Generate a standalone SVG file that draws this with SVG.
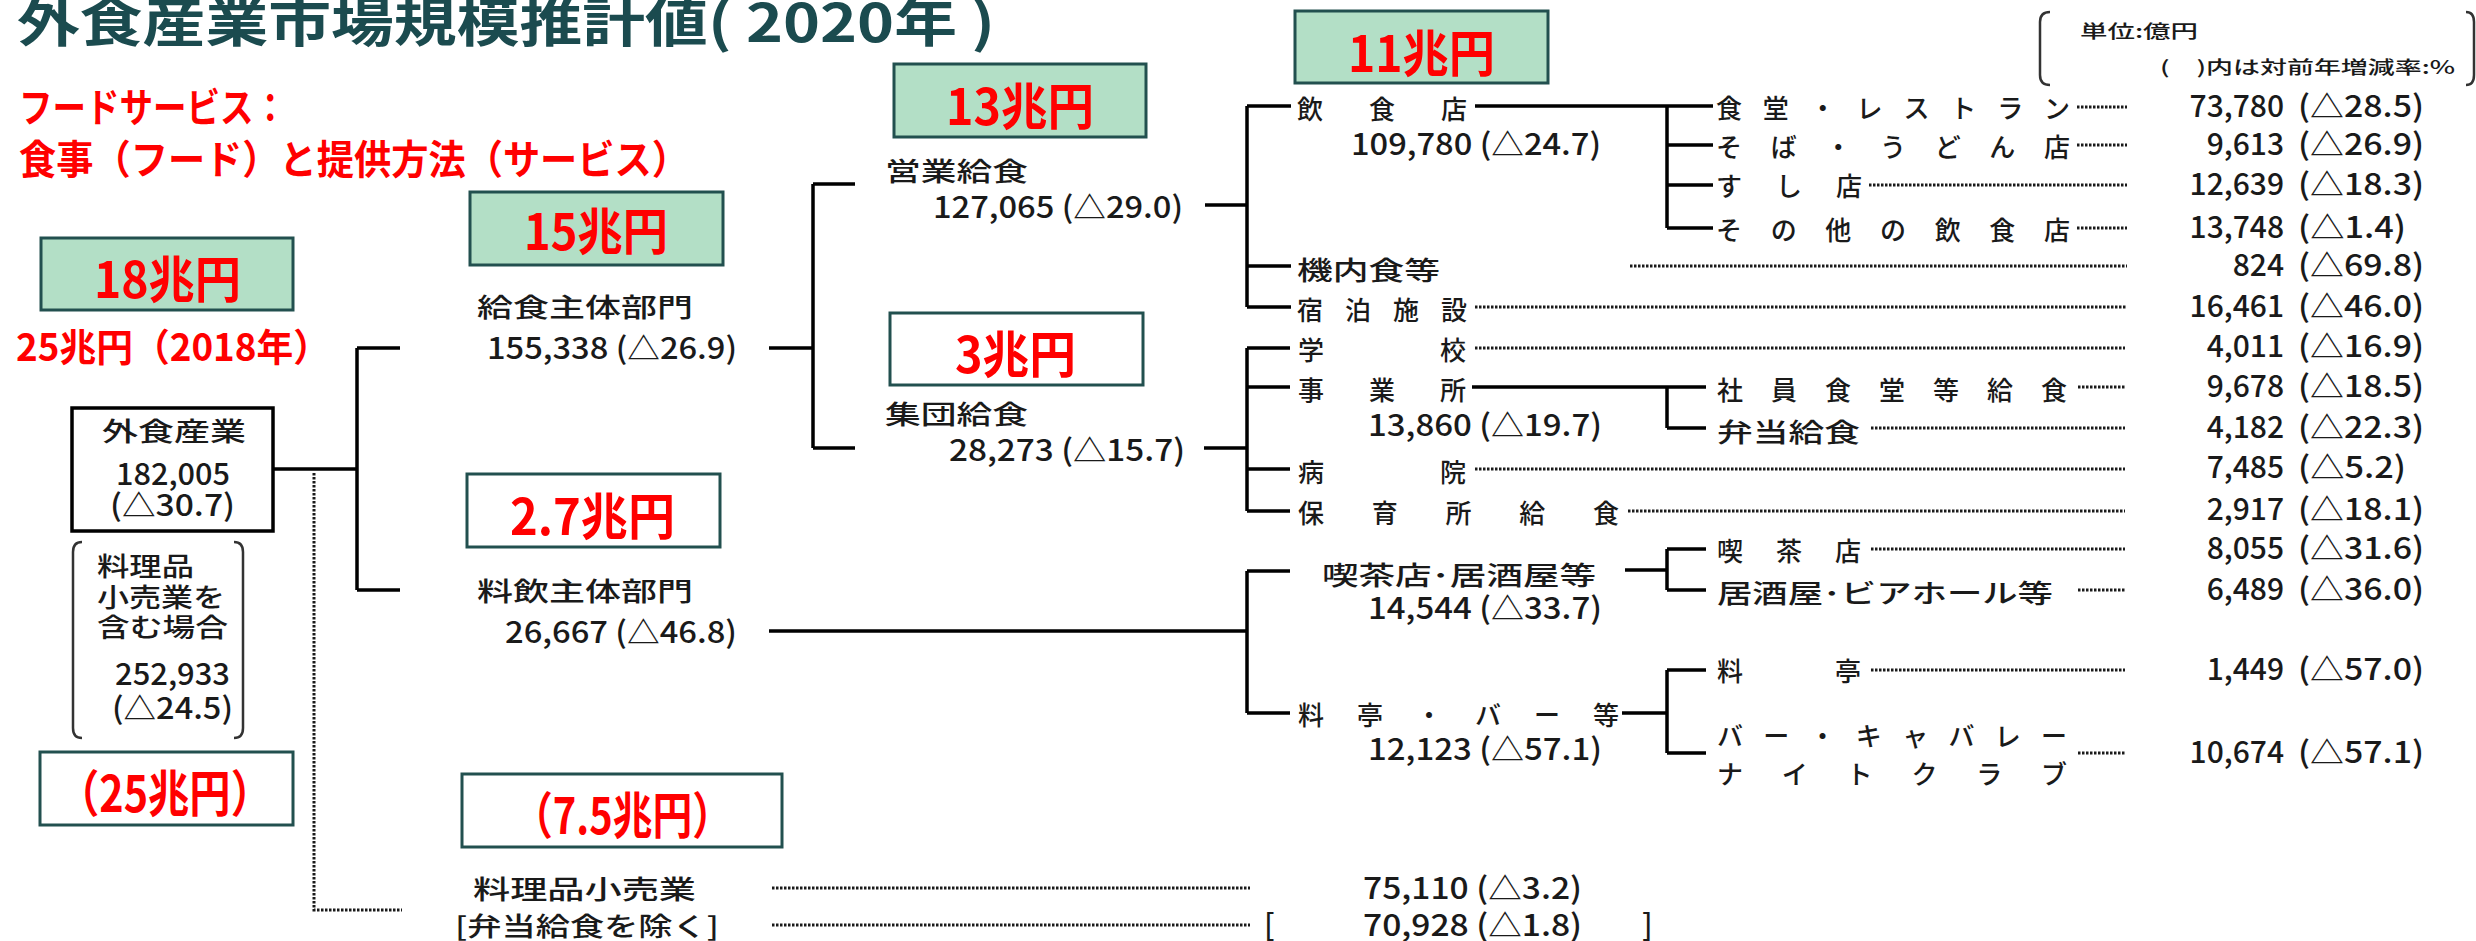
<svg xmlns="http://www.w3.org/2000/svg" width="2476" height="941" viewBox="0 0 2476 941">
<style>
text{font-family:"Noto Sans CJK JP","Noto Sans",sans-serif;fill:#1a1a1a}
.lb{font-size:26px;font-weight:500}
.nm{font-size:30px;font-weight:500}
.sm{font-size:18px;font-weight:500}
.red{fill:#ff0000;font-weight:bold}
.ttl{fill:#1b4b4f;font-weight:bold;font-size:53px}
.gbox{fill:#b3dfc6;stroke:#22504f;stroke-width:3}
.wbox{fill:#ffffff;stroke:#22504f;stroke-width:3}
.ln{stroke:#000;stroke-width:3.5;fill:none}
.dt{stroke:#1a1a1a;stroke-width:3;stroke-dasharray:2.5 1.5;fill:none}
.br{stroke:#333;stroke-width:2.5;fill:none}
</style>
<rect width="2476" height="941" fill="#fff"/>

<g id="title">
<text class="ttl" x="17" y="42" textLength="978" lengthAdjust="spacingAndGlyphs">外食産業市場規模推計値( 2020年 )</text>
</g>
<g id="note">
<text class="red" x="19" y="122" font-size="40" textLength="268" lengthAdjust="spacingAndGlyphs">フードサービス：</text>
<text class="red" x="19" y="174" font-size="40" textLength="670" lengthAdjust="spacingAndGlyphs">食事（フード）と提供方法（サービス）</text>
</g>

<g id="units">
<path class="br" d="M2050 12 Q2040 12 2040 22 L2040 75 Q2040 85 2050 85"/>
<path class="br" d="M2466 12 Q2474 12 2474 22 L2474 75 Q2474 85 2466 85"/>
<text class="sm" x="2080" y="38" textLength="118" lengthAdjust="spacingAndGlyphs">単位:億円</text>
<text class="sm" x="2160" y="74" textLength="295" lengthAdjust="spacingAndGlyphs">(　)内は対前年増減率:%</text>
</g>

<g id="connectors">
<path class="ln" d="M273 469 H357 M357 348 V590 M357 348 H400 M357 590 H400"/>
<path class="dt" d="M314 473 V910 H402"/>
<path class="ln" d="M769 348 H813 M813 184 V448 M813 184 H855 M813 448 H855"/>
<path class="ln" d="M769 631 H1247 M1247 571 V713 M1247 571 H1290 M1247 713 H1290"/>
<path class="ln" d="M1205 205 H1247 M1247 106 V307 M1247 106 H1291 M1247 266 H1291 M1247 307 H1291"/>
<path class="ln" d="M1475 106 H1713 M1667 106 V228 M1667 145 H1713 M1667 185 H1713 M1667 228 H1713"/>
<path class="ln" d="M1204 448 H1247 M1247 348 V511 M1247 348 H1290 M1247 387 H1290 M1247 469 H1290 M1247 511 H1290"/>
<path class="ln" d="M1472 387 H1706 M1667 387 V428 M1667 428 H1706"/>
<path class="ln" d="M1625 570 H1667 M1667 549 V590 M1667 549 H1706 M1667 590 H1706"/>
<path class="ln" d="M1622 713 H1667 M1667 670 V753 M1667 670 H1706 M1667 753 H1706"/>
<path class="dt" d="M2077 107 H2127 M2077 145 H2127 M1869 185 H2127 M2077 228 H2127 M1630 266 H2127 M1475 307 H2127 M1475 348 H2125 M2078 387 H2125 M1871 428 H2125 M1475 469 H2125 M1628 511 H2125 M1871 549 H2125 M2078 590 H2125 M1871 670 H2125 M2078 753 H2125 M772 888 H1250 M772 925 H1250"/>
</g>

<g id="n-18cho">
<rect class="gbox" x="41" y="238" width="252" height="72"/>
<text class="red" x="94" y="298" font-size="50" textLength="147" lengthAdjust="spacingAndGlyphs">18兆円</text>
<text class="red" x="16" y="361" font-size="38" textLength="314" lengthAdjust="spacingAndGlyphs">25兆円（2018年）</text>
</g>

<g id="n-gaishoku">
<rect x="72" y="408" width="201" height="123" fill="none" stroke="#000" stroke-width="3.5"/>
<text class="lb" x="102" y="441" textLength="144" lengthAdjust="spacingAndGlyphs">外食産業</text>
<text class="nm" x="116" y="485" textLength="114" lengthAdjust="spacingAndGlyphs">182,005</text>
<text class="nm" x="110" y="516" textLength="125" lengthAdjust="spacingAndGlyphs">(△30.7)</text>
</g>

<g id="n-incl">
<path class="br" d="M82 542 Q73 542 73 552 L73 728 Q73 738 82 738"/>
<path class="br" d="M234 542 Q243 542 243 552 L243 728 Q243 738 234 738"/>
<text class="lb" x="97" y="576" textLength="97" lengthAdjust="spacingAndGlyphs">料理品</text>
<text class="lb" x="97" y="607" textLength="128" lengthAdjust="spacingAndGlyphs">小売業を</text>
<text class="lb" x="97" y="637" textLength="131" lengthAdjust="spacingAndGlyphs">含む場合</text>
<text class="nm" x="115" y="685" textLength="115" lengthAdjust="spacingAndGlyphs">252,933</text>
<text class="nm" x="112" y="719" textLength="121" lengthAdjust="spacingAndGlyphs">(△24.5)</text>
</g>

<g id="n-25cho">
<rect class="wbox" x="40" y="752" width="253" height="73"/>
<text class="red" x="58" y="812" font-size="50" textLength="214" lengthAdjust="spacingAndGlyphs">（25兆円）</text>
</g>

<g id="n-kyushoku-shutai">
<rect class="gbox" x="470" y="192" width="253" height="73"/>
<text class="red" x="524" y="250" font-size="50" textLength="144" lengthAdjust="spacingAndGlyphs">15兆円</text>
<text class="lb" x="477" y="317" textLength="216" lengthAdjust="spacingAndGlyphs">給食主体部門</text>
<text class="nm" x="487" y="359" textLength="250" lengthAdjust="spacingAndGlyphs">155,338 (△26.9)</text>
</g>

<g id="n-ryoin-shutai">
<rect class="wbox" x="467" y="474" width="253" height="73"/>
<text class="red" x="510" y="535" font-size="50" textLength="165" lengthAdjust="spacingAndGlyphs">2.7兆円</text>
<text class="lb" x="477" y="601" textLength="216" lengthAdjust="spacingAndGlyphs">料飲主体部門</text>
<text class="nm" x="505" y="643" textLength="232" lengthAdjust="spacingAndGlyphs">26,667 (△46.8)</text>
</g>

<g id="n-ryorihin">
<rect class="wbox" x="462" y="774" width="320" height="73"/>
<text class="red" x="513" y="834" font-size="50" textLength="219" lengthAdjust="spacingAndGlyphs">（7.5兆円）</text>
<text class="lb" x="473" y="899" textLength="223" lengthAdjust="spacingAndGlyphs">料理品小売業</text>
<text class="lb" x="455" y="936" textLength="264" lengthAdjust="spacingAndGlyphs">[弁当給食を除く]</text>
<text class="nm" x="1363" y="899" textLength="219" lengthAdjust="spacingAndGlyphs">75,110 (△3.2)</text>
<text class="nm" x="1264" y="936">[</text>
<text class="nm" x="1363" y="936" textLength="219" lengthAdjust="spacingAndGlyphs">70,928 (△1.8)</text>
<text class="nm" x="1642" y="936">]</text>
</g>

<g id="n-eigyo">
<rect class="gbox" x="894" y="64" width="252" height="73"/>
<text class="red" x="946" y="125" font-size="50" textLength="148" lengthAdjust="spacingAndGlyphs">13兆円</text>
<text class="lb" x="885" y="181" textLength="143" lengthAdjust="spacingAndGlyphs">営業給食</text>
<text class="nm" x="933" y="218" textLength="250" lengthAdjust="spacingAndGlyphs">127,065 (△29.0)</text>
</g>

<g id="n-shudan">
<rect class="wbox" x="890" y="313" width="253" height="72"/>
<text class="red" x="955" y="373" font-size="50" textLength="121" lengthAdjust="spacingAndGlyphs">3兆円</text>
<text class="lb" x="885" y="424" textLength="143" lengthAdjust="spacingAndGlyphs">集団給食</text>
<text class="nm" x="949" y="461" textLength="236" lengthAdjust="spacingAndGlyphs">28,273 (△15.7)</text>
</g>

<g id="n-inshokuten">
<rect class="gbox" x="1295" y="11" width="253" height="72"/>
<text class="red" x="1348" y="72" font-size="50" textLength="147" lengthAdjust="spacingAndGlyphs">11兆円</text>
<text class="lb" x="1297" y="119" textLength="170" lengthAdjust="spacing">飲食店</text>
<text class="nm" x="1351" y="155" textLength="250" lengthAdjust="spacingAndGlyphs">109,780 (△24.7)</text>
</g>

<g id="n-kinai"><text class="lb" x="1297" y="280" textLength="143" lengthAdjust="spacingAndGlyphs">機内食等</text></g>
<g id="n-shukuhaku"><text class="lb" x="1297" y="320" textLength="170" lengthAdjust="spacing">宿泊施設</text></g>
<g id="n-gakko"><text class="lb" x="1298" y="360" textLength="168" lengthAdjust="spacing">学校</text></g>
<g id="n-jigyosho">
<text class="lb" x="1298" y="400" textLength="168" lengthAdjust="spacing">事業所</text>
<text class="nm" x="1368" y="436" textLength="234" lengthAdjust="spacingAndGlyphs">13,860 (△19.7)</text>
</g>
<g id="n-byoin"><text class="lb" x="1298" y="482" textLength="168" lengthAdjust="spacing">病院</text></g>
<g id="n-hoikusho"><text class="lb" x="1298" y="523" textLength="321" lengthAdjust="spacing">保育所給食</text></g>
<g id="n-kissa-izakaya">
<text class="lb" x="1322" y="585" textLength="274" lengthAdjust="spacingAndGlyphs">喫茶店･居酒屋等</text>
<text class="nm" x="1368" y="619" textLength="234" lengthAdjust="spacingAndGlyphs">14,544 (△33.7)</text>
</g>
<g id="n-ryotei-bar">
<text class="lb" x="1298" y="725" textLength="321" lengthAdjust="spacing">料亭・バー等</text>
<text class="nm" x="1368" y="760" textLength="234" lengthAdjust="spacingAndGlyphs">12,123 (△57.1)</text>
</g>

<g id="leaves">
<text class="lb" x="1716" y="118" textLength="354" lengthAdjust="spacing">食堂・レストラン</text>
<text class="lb" x="1716" y="157" textLength="354" lengthAdjust="spacing">そば・うどん店</text>
<text class="lb" x="1716" y="196" textLength="146" lengthAdjust="spacing">すし店</text>
<text class="lb" x="1716" y="240" textLength="354" lengthAdjust="spacing">その他の飲食店</text>
<text class="lb" x="1717" y="400" textLength="350" lengthAdjust="spacing">社員食堂等給食</text>
<text class="lb" x="1717" y="442" textLength="143" lengthAdjust="spacingAndGlyphs">弁当給食</text>
<text class="lb" x="1717" y="561" textLength="144" lengthAdjust="spacing">喫茶店</text>
<text class="lb" x="1717" y="603" textLength="336" lengthAdjust="spacingAndGlyphs">居酒屋･ビアホール等</text>
<text class="lb" x="1717" y="681" textLength="144" lengthAdjust="spacing">料亭</text>
<text class="lb" x="1717" y="746" textLength="350" lengthAdjust="spacing">バー・キャバレー</text>
<text class="lb" x="1717" y="784" textLength="350" lengthAdjust="spacing">ナイトクラブ</text>
</g>

<g id="values">
<g text-anchor="end">
<text class="nm" x="2284" y="117">73,780</text>
<text class="nm" x="2284" y="155">9,613</text>
<text class="nm" x="2284" y="195">12,639</text>
<text class="nm" x="2284" y="238">13,748</text>
<text class="nm" x="2284" y="276">824</text>
<text class="nm" x="2284" y="317">16,461</text>
<text class="nm" x="2284" y="357">4,011</text>
<text class="nm" x="2284" y="397">9,678</text>
<text class="nm" x="2284" y="438">4,182</text>
<text class="nm" x="2284" y="478">7,485</text>
<text class="nm" x="2284" y="520">2,917</text>
<text class="nm" x="2284" y="559">8,055</text>
<text class="nm" x="2284" y="600">6,489</text>
<text class="nm" x="2284" y="680">1,449</text>
<text class="nm" x="2284" y="763">10,674</text>
</g>
<g>
<text class="nm" x="2298" y="117" textLength="126" lengthAdjust="spacingAndGlyphs">(△28.5)</text>
<text class="nm" x="2298" y="155" textLength="126" lengthAdjust="spacingAndGlyphs">(△26.9)</text>
<text class="nm" x="2298" y="195" textLength="126" lengthAdjust="spacingAndGlyphs">(△18.3)</text>
<text class="nm" x="2298" y="238" textLength="108" lengthAdjust="spacingAndGlyphs">(△1.4)</text>
<text class="nm" x="2298" y="276" textLength="126" lengthAdjust="spacingAndGlyphs">(△69.8)</text>
<text class="nm" x="2298" y="317" textLength="126" lengthAdjust="spacingAndGlyphs">(△46.0)</text>
<text class="nm" x="2298" y="357" textLength="126" lengthAdjust="spacingAndGlyphs">(△16.9)</text>
<text class="nm" x="2298" y="397" textLength="126" lengthAdjust="spacingAndGlyphs">(△18.5)</text>
<text class="nm" x="2298" y="438" textLength="126" lengthAdjust="spacingAndGlyphs">(△22.3)</text>
<text class="nm" x="2298" y="478" textLength="108" lengthAdjust="spacingAndGlyphs">(△5.2)</text>
<text class="nm" x="2298" y="520" textLength="126" lengthAdjust="spacingAndGlyphs">(△18.1)</text>
<text class="nm" x="2298" y="559" textLength="126" lengthAdjust="spacingAndGlyphs">(△31.6)</text>
<text class="nm" x="2298" y="600" textLength="126" lengthAdjust="spacingAndGlyphs">(△36.0)</text>
<text class="nm" x="2298" y="680" textLength="126" lengthAdjust="spacingAndGlyphs">(△57.0)</text>
<text class="nm" x="2298" y="763" textLength="126" lengthAdjust="spacingAndGlyphs">(△57.1)</text>
</g>
</g>
</svg>
